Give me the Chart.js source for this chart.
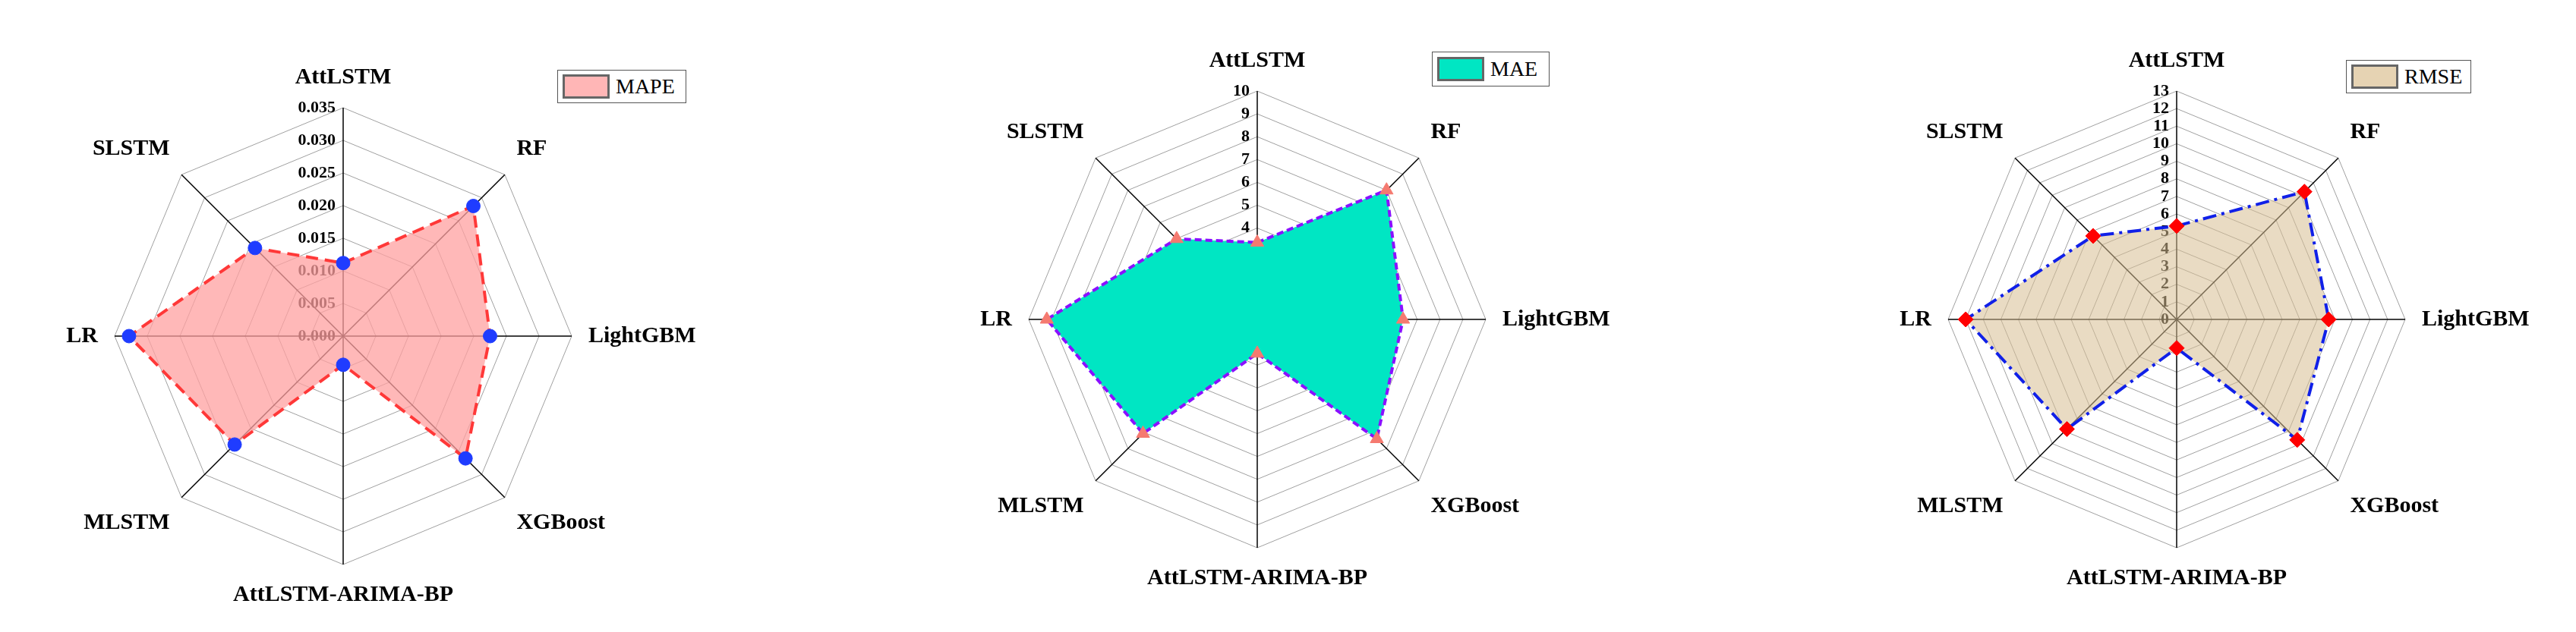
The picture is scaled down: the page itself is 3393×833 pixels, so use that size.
<!DOCTYPE html>
<html>
<head>
<meta charset="utf-8">
<script src="https://cdn.jsdelivr.net/npm/chart.js@4/dist/chart.umd.min.js"></script>
<style>
  body { margin: 0; width: 3393px; height: 833px; background: #fff; position: relative; overflow: hidden; }
  .wrap { position: absolute; top: 0; width: 1100px; height: 833px; }
  .legend { position: absolute; border: 1.5px solid #555; background: #fff; font: 28px "Liberation Serif", serif;
            display: flex; align-items: center; padding: 4px 6px; box-sizing: border-box; }
  .legend span.sw { display: inline-block; width: 62px; height: 32px; border: 3px solid #666; margin-right: 8px; box-sizing: border-box; }
</style>
</head>
<body>
<div class="wrap" style="left:-98px"><canvas id="c1" width="1100" height="833"></canvas></div>
<div class="wrap" style="left:1106px"><canvas id="c2" width="1100" height="833"></canvas></div>
<div class="wrap" style="left:2317px"><canvas id="c3" width="1100" height="833"></canvas></div>
<div class="legend" style="left:734px;top:92px;width:170px;height:44px"><span class="sw" style="background:#ffb6b6"></span>MAPE</div>
<div class="legend" style="left:1886px;top:68px;width:155px;height:46px"><span class="sw" style="background:#00e6c3"></span>MAE</div>
<div class="legend" style="left:3090px;top:79px;width:165px;height:44px"><span class="sw" style="background:#e6d3b3"></span>RMSE</div>
<script>
// categories (clockwise from top)
const models = ['AttLSTM', 'RF', 'LightGBM', 'XGBoost', 'AttLSTM-ARIMA-BP', 'MLSTM', 'LR', 'SLSTM'];

// series values
const mapeValues = [0.0112, 0.0282, 0.0225, 0.0265, 0.0044, 0.0235, 0.0328, 0.0191];
const maeValues  = [3.37, 8.0, 6.38, 7.4, 1.49, 7.07, 9.21, 4.99];
const rmseValues = [5.32, 10.28, 8.65, 9.7, 1.63, 8.83, 12.0, 6.72];

// tick labels
const mapeTicks = ['0.000', '0.005', '0.010', '0.015', '0.020', '0.025', '0.030', '0.035'];
const maeTicks  = ['0', '1', '2', '3', '4', '5', '6', '7', '8', '9', '10'];
const rmseTicks = ['0', '1', '2', '3', '4', '5', '6', '7', '8', '9', '10', '11', '12', '13'];

const serif = '"Liberation Serif", "DejaVu Serif", serif';

// tick text drawn left of the vertical axis, under the fill
const tickPlugin = {
    id: 'leftTicks',
    beforeDatasetsDraw(chart, args, opts) {
        const s = chart.scales.r;
        const ctx = chart.ctx;
        ctx.save();
        ctx.font = 'bold 22px ' + serif;
        ctx.fillStyle = '#000';
        ctx.textAlign = 'right';
        ctx.textBaseline = 'middle';
        opts.labels.forEach(t => {
            const y = s.yCenter - s.getDistanceFromCenterForValue(parseFloat(t));
            ctx.fillText(t, s.xCenter - 10, y);
        });
        ctx.restore();
    }
};

function makeRadar(id, label, values, ticks, fill, line, dash, pointStyle, pointColor, pointRadius, pad) {
    const max = parseFloat(ticks[ticks.length - 1]);
    const step = parseFloat(ticks[1]) - parseFloat(ticks[0]);
    return new Chart(document.getElementById(id), {
        type: 'radar',
        data: {
            labels: models,
            datasets: [{
                label: label,
                data: values,
                backgroundColor: fill,
                borderColor: line,
                borderWidth: 4,
                borderDash: dash,
                fill: true,
                pointStyle: pointStyle,
                pointRadius: pointRadius,
                pointBackgroundColor: pointColor,
                pointBorderColor: pointColor,
                pointBorderWidth: 1
            }]
        },
        plugins: [tickPlugin],
        options: {
            responsive: false,
            animation: false,
            layout: { padding: pad },
            plugins: {
                legend: { display: false },
                tooltip: { enabled: false },
                leftTicks: { labels: ticks }
            },
            scales: {
                r: {
                    min: 0,
                    max: max,
                    ticks: { display: false, stepSize: step },
                    grid: { color: '#a0a0a0', lineWidth: 1 },
                    angleLines: { color: '#000', lineWidth: 1.5 },
                    pointLabels: { font: { family: serif, size: 30, weight: 'bold' }, color: '#000', padding: 22 }
                }
            }
        }
    });
}

makeRadar('c1', 'MAPE', mapeValues, mapeTicks, 'rgba(255,160,160,0.75)', '#ff3838', [16, 9],
          'circle', '#1f3cff', 9, { top: 84, bottom: 31 });
makeRadar('c2', 'MAE', maeValues, maeTicks, 'rgba(0,230,195,1)', '#8a10ff', [9, 5],
          'triangle', '#f57a70', 10, { top: 62, bottom: 53 });
makeRadar('c3', 'RMSE', rmseValues, rmseTicks, 'rgba(215,190,145,0.55)', '#1020e8', [18, 7, 4, 7],
          'rectRot', '#ff0000', 10, { top: 62, bottom: 52 });
</script>
</body>
</html>
